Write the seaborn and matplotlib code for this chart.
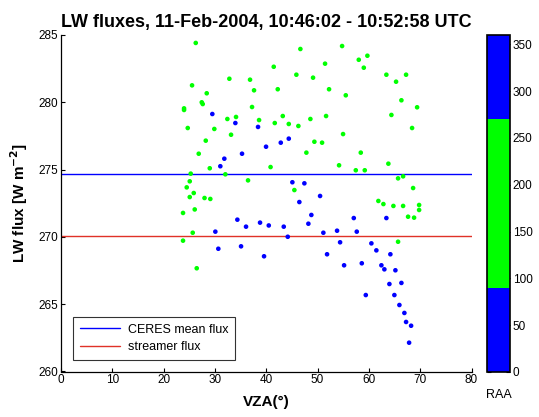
import numpy as np
import pandas as pd
import matplotlib
matplotlib.use("Agg")
import matplotlib.pyplot as plt
import seaborn as sns
from matplotlib.colors import ListedColormap, Normalize
from matplotlib.cm import ScalarMappable

# ---- data ----
# points with RAA between 90 and 270 (green)
green_vza = [26.26, 32.81, 36.84, 25.54, 37.62, 28.40, 27.43, 27.62, 23.98, 23.98,
             37.23, 34.11, 32.42, 38.60, 24.70, 29.88, 33.14, 28.21, 26.84, 28.99,
             40.84, 25.28, 32.03, 36.45, 25.09, 24.50, 25.87, 25.09, 27.97, 29.10,
             26.06, 23.78, 25.67, 23.78, 26.45,
             46.65, 54.78, 41.46, 51.46, 58.03, 59.71, 59.01, 45.87, 49.12, 63.41,
             67.25, 65.30, 42.24, 52.24, 55.50, 66.34, 69.40, 43.22, 41.66, 44.39,
             46.26, 48.60, 51.66, 64.39, 68.42, 54.97, 49.38, 50.88, 47.82, 58.42,
             54.19, 57.45, 59.20, 63.80, 65.69, 66.67, 68.62, 45.48, 61.85, 62.83,
             64.78, 66.67, 69.79, 69.79, 67.64, 68.81, 65.69]
green_flux = [284.41, 281.75, 281.68, 281.26, 280.89, 280.67, 280.00, 279.87, 279.55, 279.43,
              279.65, 278.91, 278.76, 278.68, 278.09, 278.02, 277.59, 277.15, 276.18, 275.10,
              275.19, 274.70, 274.65, 274.20, 274.13, 273.68, 273.26, 272.96, 272.89, 272.82,
              272.04, 271.78, 270.31, 269.72, 267.67,
              283.96, 284.18, 282.64, 282.87, 283.16, 283.46, 282.57, 282.05, 281.83, 282.05,
              282.05, 281.53, 280.97, 280.97, 280.52, 280.15, 279.63, 278.98, 278.46, 278.39,
              278.24, 278.76, 278.98, 279.06, 278.09, 277.64, 277.07, 277.00, 276.26, 276.26,
              275.32, 274.95, 274.95, 275.44, 274.35, 274.50, 273.63, 273.48, 272.67, 272.44,
              272.30, 272.30, 272.37, 272.00, 271.50, 271.43, 269.64]
green_raa = 180

# points with RAA below 90 or above 270 (blue)
blue_vza = [29.49, 33.98, 38.40, 39.96, 35.28, 31.83, 31.05, 42.83, 44.39, 45.09,
            47.43, 50.49, 46.45, 34.37, 36.06, 38.79, 40.49, 30.08, 30.66, 35.09,
            39.57, 48.79, 43.41, 48.21, 57.06, 63.41, 44.19, 51.13, 53.80, 57.64,
            54.39, 60.49, 61.46, 64.19, 51.85, 55.17, 58.62, 62.44, 63.02, 65.17,
            64.00, 66.34, 59.40, 64.97, 65.95, 66.92, 67.25, 68.23, 67.84]
blue_flux = [279.13, 278.46, 278.17, 276.70, 276.18, 275.81, 275.25, 277.00, 277.30, 274.06,
             273.98, 273.04, 272.59, 271.28, 270.76, 271.06, 270.85, 270.39, 269.12, 269.30,
             268.56, 271.63, 270.76, 270.98, 271.40, 271.40, 270.01, 270.31, 270.46, 270.39,
             269.60, 269.52, 269.00, 268.71, 268.71, 267.89, 268.04, 267.89, 267.59, 267.52,
             266.50, 266.58, 265.68, 265.68, 264.94, 264.35, 263.68, 263.40, 262.14]
blue_raa = 20

ceres_mean_flux = 274.65
streamer_flux = 270.07

x_ticks = [0, 10, 20, 30, 40, 50, 60, 70, 80]
y_ticks = [260, 265, 270, 275, 280, 285]
cbar_ticks = [0, 50, 100, 150, 200, 250, 300, 350]
raa_colors = ["#0000ff", "#00ff00", "#00ff00", "#0000ff"]

df = pd.DataFrame({
    "VZA": green_vza + blue_vza,
    "flux": green_flux + blue_flux,
    "RAA": [green_raa] * len(green_vza) + [blue_raa] * len(blue_vza),
})

sns.set_theme(style="white")
plt.rcParams["font.family"] = ["Liberation Sans", "DejaVu Sans"]
plt.rcParams["text.color"] = "black"
plt.rcParams["axes.labelcolor"] = "black"
plt.rcParams["axes.titlecolor"] = "black"
plt.rcParams["xtick.color"] = "black"
plt.rcParams["ytick.color"] = "black"

fig = plt.figure(figsize=(5.39, 4.17), dpi=100)
W, H = 539, 417
ax = fig.add_axes([61 / W, 1 - 371.5 / H, (471.5 - 61) / W, (371.5 - 35) / H])
cax = fig.add_axes([487.3 / W, 1 - 372 / H, 22.7 / W, (372 - 35) / H])

cmap = ListedColormap(raa_colors)
norm = Normalize(0, 360)

sns.scatterplot(data=df, x="VZA", y="flux", hue="RAA", palette=cmap, hue_norm=norm,
                s=11, linewidth=0, legend=False, ax=ax, zorder=3)

ax.axhline(ceres_mean_flux, color="#0000ff", lw=1.0, label="CERES mean flux", zorder=2)
ax.axhline(streamer_flux, color="#e03228", lw=1.0, label="streamer flux", zorder=2)

ax.set_xlim(0, 80)
ax.set_ylim(260, 285)
ax.set_xticks(x_ticks)
ax.set_yticks(y_ticks)
ax.tick_params(direction="in", length=3, width=0.8, labelsize=8.5, colors="black",
               bottom=True, left=True, pad=2)
for s in ["top", "right"]:
    ax.spines[s].set_visible(False)
for s in ["left", "bottom"]:
    ax.spines[s].set_color("black")
    ax.spines[s].set_linewidth(0.9)

ax.set_xlabel("VZA(°)", fontsize=11, fontweight="bold", labelpad=6)
ax.set_ylabel("LW flux [W m$^{\\mathbf{-2}}$]", fontsize=11, fontweight="bold", labelpad=6)
ax.set_title("LW fluxes, 11-Feb-2004, 10:46:02 - 10:52:58 UTC", fontsize=13,
             fontweight="bold", pad=6, color="black")

leg = ax.legend(loc="lower left", bbox_to_anchor=(0.03, 0.034), borderaxespad=0,
                fontsize=9, frameon=True, fancybox=False, handlelength=3.2,
                handletextpad=0.6, borderpad=0.55, labelspacing=0.45)
leg.get_frame().set_edgecolor("black")
leg.get_frame().set_linewidth(0.8)
for t in leg.get_texts():
    t.set_color("black")

cb = fig.colorbar(ScalarMappable(norm=norm, cmap=cmap), cax=cax, ticks=cbar_ticks)
cb.outline.set_edgecolor("black")
cb.outline.set_linewidth(1.2)
cax.tick_params(direction="in", length=3, width=0.8, labelsize=8.5, right=True, left=True,
                colors="black", pad=2)
cax.set_xlabel("RAA", fontsize=9, labelpad=12, color="black")

fig.savefig("out.png", dpi=100)
